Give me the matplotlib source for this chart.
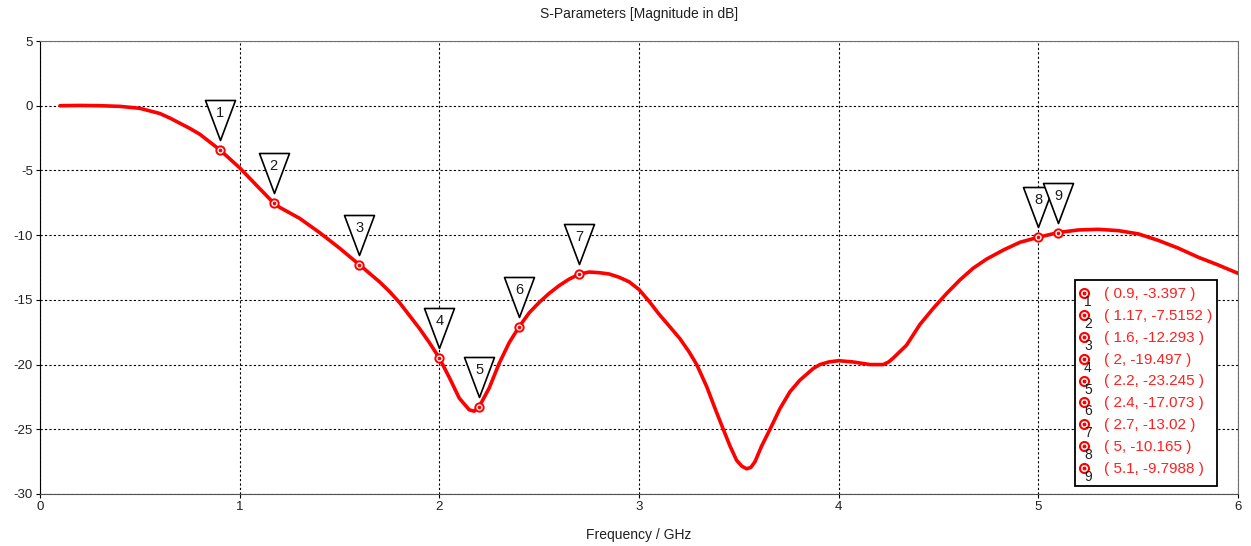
import matplotlib
matplotlib.use('Agg')
import matplotlib.pyplot as plt
from matplotlib.path import Path
from matplotlib.transforms import ScaledTranslation
from matplotlib.patches import Rectangle

plt.rcParams['axes.unicode_minus'] = False

# S11 curve
freq = [0.1, 0.2, 0.3, 0.4, 0.5, 0.6, 0.65, 0.7, 0.75, 0.8, 0.85, 0.9, 1.0,
        1.1, 1.17, 1.2, 1.3, 1.4, 1.5, 1.6, 1.7, 1.75, 1.8, 1.85, 1.9, 1.95,
        2.0, 2.05, 2.1, 2.15, 2.175, 2.2, 2.25, 2.3, 2.35, 2.4, 2.45, 2.5, 2.55,
        2.6, 2.65, 2.7, 2.75, 2.8, 2.85, 2.9, 2.95, 3.0, 3.05, 3.1, 3.15, 3.205,
        3.25, 3.289, 3.339, 3.381, 3.422, 3.456, 3.489, 3.515, 3.539, 3.56, 3.581, 3.614,
        3.656, 3.706, 3.756, 3.806, 3.873, 3.906, 3.95, 4.0, 4.073, 4.157, 4.223, 4.25,
        4.273, 4.34, 4.407, 4.474, 4.541, 4.608, 4.674, 4.741, 4.825, 4.908, 5.0,
        5.1, 5.2, 5.3, 5.4, 5.5, 5.6, 5.7, 5.8, 5.9, 6.0]
s11_db = [0.0, 0.02, 0.0, -0.05, -0.2, -0.6, -0.95, -1.35, -1.75, -2.2, -2.8, -3.397, -4.8,
          -6.4, -7.515, -7.85, -8.7, -9.8, -11.0, -12.293, -13.6, -14.35, -15.2, -16.2, -17.2, -18.3,
          -19.497, -21.0, -22.6, -23.5, -23.6, -23.245, -21.8, -19.9, -18.3, -17.073, -16.0, -15.2, -14.5,
          -13.9, -13.4, -13.02, -12.85, -12.9, -13.0, -13.25, -13.6, -14.2, -15.1, -16.1, -17.0, -18.0,
          -19.0, -20.0, -21.7, -23.4, -25.0, -26.3, -27.4, -27.85, -28.05, -27.95, -27.5, -26.3,
          -25.0, -23.4, -22.1, -21.2, -20.3, -20.0, -19.8, -19.7, -19.8, -20.0, -20.0, -19.8,
          -19.5, -18.5, -16.9, -15.65, -14.5, -13.45, -12.55, -11.85, -11.15, -10.55, -10.165,
          -9.799, -9.6, -9.55, -9.65, -9.9, -10.4, -11.0, -11.7, -12.3, -12.95]

# markers
mk_id = [1, 2, 3, 4, 5, 6, 7, 8, 9]
mk_x = [0.9, 1.17, 1.6, 2, 2.2, 2.4, 2.7, 5, 5.1]
mk_y = [-3.397, -7.5152, -12.293, -19.497, -23.245, -17.073, -13.02, -10.165, -9.7988]
mk_xtxt = ['0.9', '1.17', '1.6', '2', '2.2', '2.4', '2.7', '5', '5.1']
mk_ytxt = ['-3.397', '-7.5152', '-12.293', '-19.497', '-23.245', '-17.073', '-13.02', '-10.165', '-9.7988']

W, H = 1251, 546
fig = plt.figure(figsize=(W / 100, H / 100), dpi=100)
ax = fig.add_axes([40 / W, 1 - 494 / H, (1238 - 40) / W, (494 - 41) / H])

ax.plot(freq, s11_db, color='red', lw=2.6, solid_capstyle='round', solid_joinstyle='round', zorder=3)

ax.set_xlim(0, 6)
ax.set_ylim(-30, 5)
ax.set_xticks(range(0, 7))
ax.set_yticks(range(-30, 6, 5))
ax.grid(True, color='black', linestyle=(0, (2, 2)), lw=0.8)
ax.tick_params(length=3, width=0.8, labelsize=9.5, labelcolor='#202020', pad=2)
for s in ['top', 'right', 'bottom']:
    ax.spines[s].set_color('#707070')
ax.spines['left'].set_color('black')
ax.spines['bottom'].set_color('#505050')

tfont = 'Liberation Sans'
for lab in ax.get_xticklabels() + ax.get_yticklabels():
    lab.set_family(tfont)

fig.text(639 / W, 1 - 14 / H, 'S-Parameters [Magnitude in dB]', ha='center', va='center',
         fontsize=10, family=tfont, color='#202020')
fig.text(639 / W, 1 - 535 / H, 'Frequency / GHz', ha='center', va='center',
         fontsize=10, family=tfont, color='#202020')

# points on the curve
ax.plot(mk_x, mk_y, ls='none', marker='o', ms=6, mfc='white', mec='red', mew=1.4, zorder=4)
ax.plot(mk_x, mk_y, ls='none', marker='o', ms=1.6, mfc='red', mec='red', zorder=5)

# flag triangles above the markers
tri = Path([(-0.75, 1), (0.75, 1), (0, -1), (-0.75, 1)],
           [Path.MOVETO, Path.LINETO, Path.LINETO, Path.CLOSEPOLY])
tri_tr = ax.transData + ScaledTranslation(0, 0.30, fig.dpi_scale_trans)
txt_tr = ax.transData + ScaledTranslation(0, 0.37, fig.dpi_scale_trans)
for i, x, y in zip(mk_id, mk_x, mk_y):
    ax.plot([x], [y], marker=tri, ms=28.8, mfc='white', mec='black', mew=1.2,
            transform=tri_tr, clip_on=False, zorder=6 + i)
    ax.text(x, y, str(i), transform=txt_tr, ha='center', va='center', fontsize=10.5,
            family=tfont, color='#1a1a1a', zorder=6 + i, clip_on=False)

# marker table box
bx0, by0, bx1, by1 = 1075, 280, 1217, 486
fig.patches.append(Rectangle((bx0 / W, 1 - by1 / H), (bx1 - bx0) / W, (by1 - by0) / H,
                             transform=fig.transFigure, fc='white', ec='black', lw=1.3, zorder=20))
row0, dy = 293.3, 21.8
for k, (i, xs, ys) in enumerate(zip(mk_id, mk_xtxt, mk_ytxt)):
    py = row0 + k * dy
    fig.lines.append(plt.Line2D([1084 / W], [1 - py / H], transform=fig.transFigure, ls='none',
                                marker='o', ms=6.5, mfc='white', mec='red', mew=1.5, zorder=21))
    fig.lines.append(plt.Line2D([1084 / W], [1 - py / H], transform=fig.transFigure, ls='none',
                                marker='o', ms=1.8, mfc='red', mec='red', zorder=22))
    fig.text(1088 / W, 1 - (py + 9) / H, str(i), ha='center', va='center', fontsize=10,
             family=tfont, color='#202020', zorder=22)
    fig.text(1104 / W, 1 - (py + 1) / H, '( %s, %s )' % (xs, ys), ha='left', va='center',
             fontsize=11, family=tfont, color='#ff2020', zorder=22)

fig.savefig('out.png', dpi=100)
